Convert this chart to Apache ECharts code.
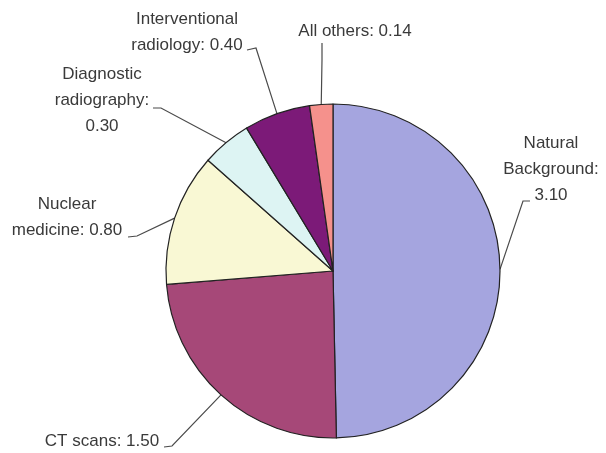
<!DOCTYPE html>
<html>
<head>
<meta charset="utf-8">
<script src="https://cdn.jsdelivr.net/npm/echarts@6/dist/echarts.min.js"></script>
<style>
	html, body { margin: 0; padding: 0; background: #fff; }
	#chart { width: 606px; height: 453px; }
</style>
</head>
<body>
<div id="chart"></div>
<script>
// data
var categories = ['Natural Background', 'CT scans', 'Nuclear medicine', 'Diagnostic radiography', 'Interventional radiology', 'All others'];
var doses = [3.10, 1.50, 0.80, 0.30, 0.40, 0.14];

// how each label breaks into lines (text only)
var labelHeads = ['Natural\nBackground:\n', 'CT scans: ', 'Nuclear\nmedicine: ', 'Diagnostic\nradiography:\n', 'Interventional\nradiology: ', 'All others: '];

var sliceColors = ['#a5a5df', '#a64878', '#f9f8d4', '#ddf4f3', '#7c1a78', '#f5918c'];

// label block centres and leader tails (bend, end)
var labelSpots = [
	{ x: 551, y: 169, bend: [523, 201], end: [530, 201] },
	{ x: 102, y: 441, bend: [172, 446], end: [164, 447] },
	{ x: 67, y: 217, bend: [137, 236], end: [128, 237] },
	{ x: 102, y: 100, bend: [161, 108], end: [153, 108] },
	{ x: 187, y: 32, bend: [256, 48], end: [247, 50] },
	{ x: 355, y: 31, bend: [322, 60], end: [322, 43] }
];

var myChart = echarts.init(document.getElementById('chart'));

var pieData = [];
for (var i = 0; i < categories.length; i++) {
	pieData.push({
		name: categories[i],
		value: doses[i],
		itemStyle: { color: sliceColors[i] }
	});
}

var option = {
	animation: false,
	series: [
		{
			type: 'pie',
			center: [333, 271],
			radius: 167,
			startAngle: 90,
			clockwise: true,
			avoidLabelOverlap: false,
			silent: true,
			itemStyle: {
				borderColor: '#222',
				borderWidth: 1.2
			},
			label: {
				show: true,
				position: 'outside',
				color: '#3a3a3a',
				fontFamily: 'Liberation Sans, Arial, sans-serif',
				fontSize: 17,
				lineHeight: 26,
				formatter: function (p) {
					return labelHeads[p.dataIndex] + p.value.toFixed(2);
				}
			},
			labelLine: {
				show: true,
				length: 10,
				length2: 10,
				lineStyle: { color: '#4a4a4a', width: 1.2 }
			},
			labelLayout: function (params) {
				var spot = labelSpots[params.dataIndex];
				var pts = params.labelLinePoints;
				var edge = pts ? pts[0] : spot.bend;
				return {
					x: spot.x,
					y: spot.y,
					align: 'center',
					verticalAlign: 'middle',
					labelLinePoints: [edge, spot.bend, spot.end]
				};
			},
			data: pieData
		}
	]
};

myChart.setOption(option);
</script>
</body>
</html>
